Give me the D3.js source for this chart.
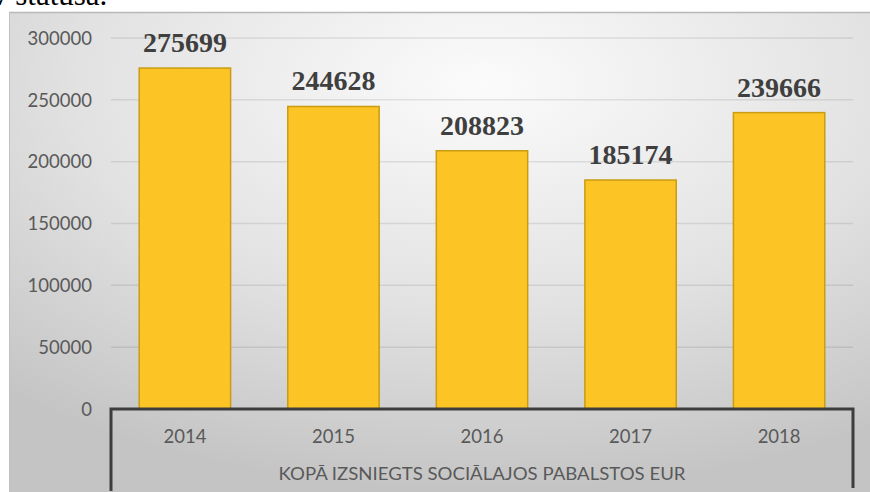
<!DOCTYPE html>
<html>
<head>
<meta charset="utf-8">
<script src="https://cdn.jsdelivr.net/npm/d3@7"></script>
<style>
html,body{margin:0;padding:0;background:#fff;}
svg{display:block;}
</style>
</head>
<body>
<svg id="chart" width="870" height="492"></svg>
<script>
const categories = ["2014", "2015", "2016", "2017", "2018"];
const values = [275699, 244628, 208823, 185174, 239666];
const yTicks = [0, 50000, 100000, 150000, 200000, 250000, 300000];
const axisTitle = "KOPĀ IZSNIEGTS SOCIĀLAJOS PABALSTOS EUR";
const headerText = "v statusā.";

const svg = d3.select("#chart");
const W = 870, H = 492;
const frame = {x: 9, y: 12};
const plot = {left: 111, right: 853, top: 38, bottom: 409};

const defs = svg.append("defs");
const rg = defs.append("radialGradient").attr("id", "bg")
  .attr("cx", "55%").attr("cy", "15%").attr("r", "85%")
  .attr("fx", "55%").attr("fy", "15%");
rg.append("stop").attr("offset", "0%").attr("stop-color", "#fbfbfb");
rg.append("stop").attr("offset", "55%").attr("stop-color", "#e2e2e2");
rg.append("stop").attr("offset", "100%").attr("stop-color", "#c4c4c4");

// header text (cropped)
svg.append("text").attr("x", -8).attr("y", 5)
  .attr("font-family", "Liberation Serif, Times New Roman, serif")
  .attr("font-size", 31).attr("fill", "#000").text(headerText);

svg.append("rect").attr("x", frame.x).attr("y", frame.y)
  .attr("width", W - frame.x).attr("height", H - frame.y)
  .attr("fill", "url(#bg)");
svg.append("line").attr("x1", frame.x).attr("x2", W).attr("y1", frame.y + 0.5).attr("y2", frame.y + 0.5)
  .attr("stroke", "#b8b8b8").attr("stroke-width", 1.5);
svg.append("line").attr("x1", frame.x + 0.5).attr("x2", frame.x + 0.5).attr("y1", frame.y).attr("y2", H)
  .attr("stroke", "#c0c0c0").attr("stroke-width", 1);

const x = d3.scaleBand().domain(categories).range([plot.left, plot.right]).paddingInner(0.385).paddingOuter(0.19);
const y = d3.scaleLinear().domain([0, 300000]).range([plot.bottom, plot.top]);

// gridlines
svg.append("g").selectAll("line").data(yTicks.filter(d => d > 0)).join("line")
  .attr("x1", plot.left).attr("x2", plot.right)
  .attr("y1", d => y(d)).attr("y2", d => y(d))
  .attr("stroke", "rgba(0,0,0,0.09)").attr("stroke-width", 1.5);

// y axis labels
const yAxis = d3.axisLeft(y).tickValues(yTicks).tickSize(0).tickPadding(0).tickFormat(d3.format("d"));
const ya = svg.append("g").attr("transform", `translate(92,0)`).call(yAxis);
ya.select(".domain").remove();
ya.selectAll("text").attr("font-family", "Lato, Carlito, sans-serif").attr("font-size", 18.5)
  .attr("fill", "#595959").attr("dy", "0.34em");

// bars
svg.append("g").selectAll("rect").data(values).join("rect")
  .attr("x", (d, i) => x(categories[i]))
  .attr("y", d => y(d))
  .attr("width", x.bandwidth())
  .attr("height", d => y(0) - y(d))
  .attr("fill", "#fdc425").attr("stroke", "#c99c12").attr("stroke-width", 1.5);

// data labels
svg.append("g").selectAll("text").data(values).join("text")
  .attr("x", (d, i) => x(categories[i]) + x.bandwidth() / 2)
  .attr("y", d => y(d) - 16)
  .attr("text-anchor", "middle")
  .attr("font-family", "Liberation Serif, Times New Roman, serif")
  .attr("font-weight", "bold").attr("font-size", 28).attr("fill", "#3f3f3f")
  .text(d => d);

// category axis box
const axisColor = "#3d3d3d";
svg.append("path")
  .attr("d", `M${plot.left},491 V${plot.bottom} H${plot.right} V488`)
  .attr("fill", "none").attr("stroke", axisColor).attr("stroke-width", 3);

const xAxis = d3.axisBottom(x).tickSize(0).tickPadding(0);
const xa = svg.append("g").attr("transform", `translate(0,${plot.bottom})`).call(xAxis);
xa.select(".domain").remove();
xa.selectAll("text").attr("font-family", "Lato, Carlito, sans-serif").attr("font-size", 18.5)
  .attr("fill", "#595959").attr("dy", null).attr("y", 34);

svg.append("text").attr("x", (plot.left + plot.right) / 2).attr("y", 480)
  .attr("text-anchor", "middle")
  .attr("font-family", "Lato, Carlito, sans-serif").attr("font-size", 16.5)
  .attr("fill", "#595959").attr("textLength", 407).attr("lengthAdjust", "spacingAndGlyphs")
  .text(axisTitle);
</script>
</body>
</html>
